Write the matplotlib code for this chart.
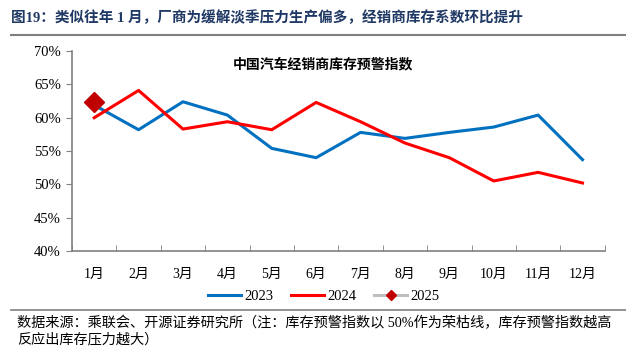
import matplotlib.pyplot as plt
from matplotlib.lines import Line2D

plt.rcParams['font.family'] = ['Liberation Serif', 'Noto Sans CJK SC']

months = ['1月', '2月', '3月', '4月', '5月', '6月', '7月', '8月', '9月', '10月', '11月', '12月']
y2023 = [61.9, 58.2, 62.4, 60.4, 55.4, 54.0, 57.8, 56.9, 57.8, 58.6, 60.4, 53.7]
y2024 = [60.0, 64.1, 58.3, 59.4, 58.2, 62.3, 59.4, 56.2, 54.0, 50.5, 51.8, 50.2]
y2025 = [62.3]

fig = plt.figure(figsize=(6.26, 3.48), dpi=100)
ax = fig.add_axes([0.115, 0.279, 0.851, 0.574])

x = list(range(len(months)))
ax.plot(x, y2023, color='#0070C0', lw=2.2, label='2023')
ax.plot(x, y2024, color='#FF0000', lw=2.2, label='2024')
ax.plot(x[:1], y2025, color='#C00000', marker='D', ms=10, ls='none')

ax.set_xlim(-0.5, 11.5)
ax.set_ylim(40, 70)
ax.set_yticks(range(40, 71, 5))
ax.set_yticklabels([f'{v}%' for v in range(40, 71, 5)], fontsize=10.5)
ax.set_xticks(x)
ax.set_xticklabels(months, fontsize=10)
ax.set_xticks([i - 0.5 for i in range(13)], minor=True)
ax.tick_params(axis='x', which='major', length=0, pad=12)
ax.tick_params(axis='x', which='minor', direction='in', length=4, color='#808080')
ax.tick_params(axis='y', direction='out', length=4, color='#808080', pad=4)
for s in ['top', 'right']:
    ax.spines[s].set_visible(False)
for s in ['left', 'bottom']:
    ax.spines[s].set_color('#808080')
    ax.spines[s].set_linewidth(1.2)

ax.text(0.472, 0.97, '中国汽车经销商库存预警指数', transform=ax.transAxes,
        ha='center', va='top', fontsize=10, fontweight='bold')

handles = [Line2D([], [], color='#0070C0', lw=2.2),
           Line2D([], [], color='#FF0000', lw=2.2),
           Line2D([], [], color='#BFBFBF', lw=2.2, marker='D', ms=5,
                  mfc='#C00000', mec='#C00000')]
fig.legend(handles, ['2023', '2024', '2025'], loc='center', ncol=3,
           bbox_to_anchor=(0.517, 0.148), frameon=False, fontsize=10.5,
           handlelength=2.3, handletextpad=0.2, columnspacing=1.2)

fig.text(0.018, 0.948, '图19：类似往年 1 月，厂商为缓解淡季压力生产偏多，经销商库存系数环比提升',
         fontsize=10.5, fontweight='bold', color='#1F3864', va='center')
fig.add_artist(Line2D([0.018, 1.0], [0.9, 0.9], color='#7F7F7F', lw=1.5))
fig.add_artist(Line2D([0.018, 1.0], [0.108, 0.108], color='#7F7F7F', lw=1.2))
fig.text(0.027, 0.072, '数据来源：乘联会、开源证券研究所（注：库存预警指数以 50%作为荣枯线，库存预警指数越高',
         fontsize=10.2, va='center')
fig.text(0.027, 0.025, '反应出库存压力越大）', fontsize=10.2, va='center')

fig.savefig('out.png', dpi=100)
